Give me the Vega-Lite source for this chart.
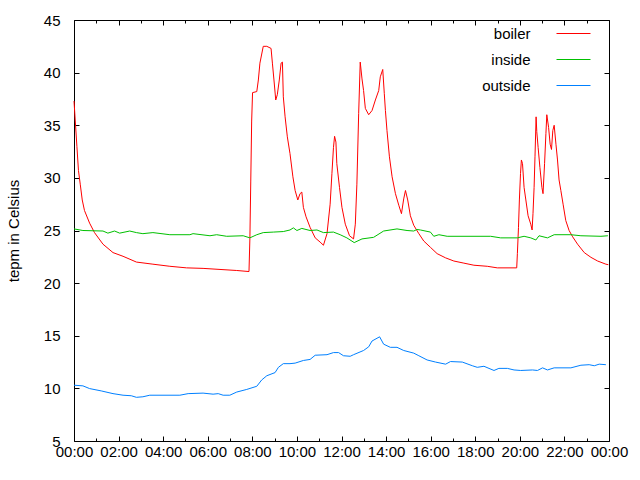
{
"$schema": "https://vega.github.io/schema/vega-lite/v6.json",
"width": 535, "height": 421,
"autosize": {"type": "none"},
"padding": {"left": 74, "top": 20, "right": 31, "bottom": 39},
"background": "white",
"config": {
 "view": {"stroke": null},
 "font": "Liberation Sans",
 "axis": {"grid": false, "domainColor": "black", "domainWidth": 1, "tickColor": "black", "tickWidth": 1, "labelColor": "black", "titleColor": "black", "labelFont": "Liberation Sans", "labelFontSize": 15, "titleFont": "Liberation Sans", "titleFontSize": 15, "titleFontWeight": "normal", "labelOverlap": false, "labelFlush": false, "labelBound": false}
},
"data": {"values": [
{"h":0,"s":"boiler","v":37.3},{"h":0.13,"s":"boiler","v":33.0},{"h":0.2,"s":"boiler","v":30.7},{"h":0.28,"s":"boiler","v":29.4},{"h":0.37,"s":"boiler","v":27.9},{"h":0.47,"s":"boiler","v":26.9},{"h":0.7,"s":"boiler","v":25.7},{"h":0.92,"s":"boiler","v":24.8},{"h":1.3,"s":"boiler","v":23.7},{"h":1.75,"s":"boiler","v":22.9},{"h":2.2,"s":"boiler","v":22.55},{"h":2.8,"s":"boiler","v":22.0},{"h":3.54,"s":"boiler","v":21.8},{"h":4.3,"s":"boiler","v":21.6},{"h":5.05,"s":"boiler","v":21.45},{"h":5.79,"s":"boiler","v":21.4},{"h":6.55,"s":"boiler","v":21.3},{"h":7.3,"s":"boiler","v":21.2},{"h":7.85,"s":"boiler","v":21.1},{"h":7.89,"s":"boiler","v":24.2},{"h":7.93,"s":"boiler","v":29.7},{"h":7.97,"s":"boiler","v":35.4},{"h":8.01,"s":"boiler","v":38.1},{"h":8.2,"s":"boiler","v":38.2},{"h":8.27,"s":"boiler","v":39.3},{"h":8.34,"s":"boiler","v":40.9},{"h":8.49,"s":"boiler","v":42.5},{"h":8.65,"s":"boiler","v":42.5},{"h":8.84,"s":"boiler","v":42.3},{"h":8.9,"s":"boiler","v":40.9},{"h":8.97,"s":"boiler","v":39.3},{"h":9.05,"s":"boiler","v":37.4},{"h":9.12,"s":"boiler","v":37.9},{"h":9.21,"s":"boiler","v":39.3},{"h":9.29,"s":"boiler","v":40.9},{"h":9.35,"s":"boiler","v":41.0},{"h":9.39,"s":"boiler","v":37.7},{"h":9.47,"s":"boiler","v":35.8},{"h":9.57,"s":"boiler","v":33.9},{"h":9.69,"s":"boiler","v":32.3},{"h":9.82,"s":"boiler","v":30.1},{"h":9.92,"s":"boiler","v":28.8},{"h":10.04,"s":"boiler","v":27.9},{"h":10.14,"s":"boiler","v":28.5},{"h":10.22,"s":"boiler","v":28.65},{"h":10.29,"s":"boiler","v":27.2},{"h":10.41,"s":"boiler","v":26.3},{"h":10.59,"s":"boiler","v":25.3},{"h":10.82,"s":"boiler","v":24.3},{"h":11.04,"s":"boiler","v":23.9},{"h":11.19,"s":"boiler","v":23.6},{"h":11.35,"s":"boiler","v":24.7},{"h":11.49,"s":"boiler","v":27.5},{"h":11.57,"s":"boiler","v":30.4},{"h":11.64,"s":"boiler","v":32.9},{"h":11.69,"s":"boiler","v":33.95},{"h":11.75,"s":"boiler","v":33.4},{"h":11.79,"s":"boiler","v":31.35},{"h":11.91,"s":"boiler","v":29.1},{"h":12.02,"s":"boiler","v":27.2},{"h":12.17,"s":"boiler","v":25.6},{"h":12.36,"s":"boiler","v":24.5},{"h":12.54,"s":"boiler","v":24.2},{"h":12.62,"s":"boiler","v":25.6},{"h":12.69,"s":"boiler","v":29.4},{"h":12.77,"s":"boiler","v":36.1},{"h":12.84,"s":"boiler","v":41.0},{"h":12.92,"s":"boiler","v":39.4},{"h":12.99,"s":"boiler","v":38.3},{"h":13.07,"s":"boiler","v":36.6},{"h":13.22,"s":"boiler","v":36.0},{"h":13.37,"s":"boiler","v":36.4},{"h":13.52,"s":"boiler","v":37.4},{"h":13.67,"s":"boiler","v":38.3},{"h":13.74,"s":"boiler","v":39.6},{"h":13.85,"s":"boiler","v":40.3},{"h":13.92,"s":"boiler","v":38.0},{"h":13.97,"s":"boiler","v":36.4},{"h":14.04,"s":"boiler","v":34.5},{"h":14.15,"s":"boiler","v":32.0},{"h":14.27,"s":"boiler","v":30.1},{"h":14.42,"s":"boiler","v":28.5},{"h":14.57,"s":"boiler","v":27.4},{"h":14.69,"s":"boiler","v":26.6},{"h":14.79,"s":"boiler","v":28.0},{"h":14.87,"s":"boiler","v":28.8},{"h":14.97,"s":"boiler","v":27.9},{"h":15.09,"s":"boiler","v":26.4},{"h":15.24,"s":"boiler","v":25.5},{"h":15.47,"s":"boiler","v":24.7},{"h":15.69,"s":"boiler","v":24.0},{"h":15.99,"s":"boiler","v":23.4},{"h":16.29,"s":"boiler","v":22.8},{"h":16.67,"s":"boiler","v":22.4},{"h":17.04,"s":"boiler","v":22.1},{"h":17.49,"s":"boiler","v":21.9},{"h":17.94,"s":"boiler","v":21.7},{"h":18.54,"s":"boiler","v":21.6},{"h":18.99,"s":"boiler","v":21.45},{"h":19.86,"s":"boiler","v":21.45},{"h":19.89,"s":"boiler","v":22.8},{"h":19.94,"s":"boiler","v":25.3},{"h":19.98,"s":"boiler","v":27.9},{"h":20.03,"s":"boiler","v":30.4},{"h":20.07,"s":"boiler","v":31.7},{"h":20.12,"s":"boiler","v":31.35},{"h":20.19,"s":"boiler","v":29.1},{"h":20.27,"s":"boiler","v":27.9},{"h":20.37,"s":"boiler","v":26.4},{"h":20.49,"s":"boiler","v":25.6},{"h":20.55,"s":"boiler","v":25.05},{"h":20.59,"s":"boiler","v":26.6},{"h":20.64,"s":"boiler","v":29.1},{"h":20.68,"s":"boiler","v":32.0},{"h":20.73,"s":"boiler","v":35.8},{"h":20.76,"s":"boiler","v":34.4},{"h":20.82,"s":"boiler","v":32.9},{"h":20.9,"s":"boiler","v":31.0},{"h":20.99,"s":"boiler","v":29.1},{"h":21.04,"s":"boiler","v":28.5},{"h":21.11,"s":"boiler","v":31.35},{"h":21.17,"s":"boiler","v":34.2},{"h":21.21,"s":"boiler","v":36.0},{"h":21.29,"s":"boiler","v":34.8},{"h":21.36,"s":"boiler","v":33.2},{"h":21.42,"s":"boiler","v":32.7},{"h":21.48,"s":"boiler","v":34.5},{"h":21.54,"s":"boiler","v":35.0},{"h":21.62,"s":"boiler","v":33.2},{"h":21.69,"s":"boiler","v":31.7},{"h":21.76,"s":"boiler","v":29.8},{"h":21.84,"s":"boiler","v":28.8},{"h":21.94,"s":"boiler","v":27.5},{"h":22.06,"s":"boiler","v":25.95},{"h":22.21,"s":"boiler","v":25.0},{"h":22.37,"s":"boiler","v":24.4},{"h":22.59,"s":"boiler","v":23.7},{"h":22.89,"s":"boiler","v":22.9},{"h":23.19,"s":"boiler","v":22.45},{"h":23.49,"s":"boiler","v":22.1},{"h":23.86,"s":"boiler","v":21.8},{"h":23.97,"s":"boiler","v":21.75},
{"h":0,"s":"inside","v":25.15},{"h":0.4,"s":"inside","v":25.0},{"h":1.3,"s":"inside","v":24.95},{"h":1.52,"s":"inside","v":24.75},{"h":1.82,"s":"inside","v":24.95},{"h":2.05,"s":"inside","v":24.75},{"h":2.5,"s":"inside","v":24.95},{"h":2.8,"s":"inside","v":24.8},{"h":3.09,"s":"inside","v":24.7},{"h":3.54,"s":"inside","v":24.8},{"h":4.3,"s":"inside","v":24.6},{"h":5.2,"s":"inside","v":24.6},{"h":5.34,"s":"inside","v":24.7},{"h":6.1,"s":"inside","v":24.5},{"h":6.4,"s":"inside","v":24.6},{"h":6.85,"s":"inside","v":24.45},{"h":7.59,"s":"inside","v":24.5},{"h":7.89,"s":"inside","v":24.3},{"h":8.2,"s":"inside","v":24.6},{"h":8.49,"s":"inside","v":24.8},{"h":8.94,"s":"inside","v":24.85},{"h":9.39,"s":"inside","v":24.9},{"h":9.69,"s":"inside","v":25.05},{"h":9.84,"s":"inside","v":25.25},{"h":10.0,"s":"inside","v":25.0},{"h":10.22,"s":"inside","v":25.2},{"h":10.59,"s":"inside","v":25.0},{"h":10.9,"s":"inside","v":25.05},{"h":11.19,"s":"inside","v":24.8},{"h":11.64,"s":"inside","v":24.85},{"h":11.94,"s":"inside","v":24.6},{"h":12.24,"s":"inside","v":24.3},{"h":12.57,"s":"inside","v":23.85},{"h":12.92,"s":"inside","v":24.2},{"h":13.44,"s":"inside","v":24.35},{"h":13.89,"s":"inside","v":24.95},{"h":14.49,"s":"inside","v":25.15},{"h":14.94,"s":"inside","v":25.0},{"h":15.24,"s":"inside","v":24.95},{"h":15.39,"s":"inside","v":25.1},{"h":15.54,"s":"inside","v":25.05},{"h":15.99,"s":"inside","v":24.85},{"h":16.14,"s":"inside","v":24.45},{"h":16.37,"s":"inside","v":24.6},{"h":16.74,"s":"inside","v":24.45},{"h":18.69,"s":"inside","v":24.45},{"h":19.14,"s":"inside","v":24.3},{"h":19.89,"s":"inside","v":24.3},{"h":20.19,"s":"inside","v":24.45},{"h":20.49,"s":"inside","v":24.3},{"h":20.72,"s":"inside","v":24.1},{"h":20.86,"s":"inside","v":24.5},{"h":21.24,"s":"inside","v":24.3},{"h":21.54,"s":"inside","v":24.6},{"h":22.29,"s":"inside","v":24.6},{"h":22.74,"s":"inside","v":24.5},{"h":23.64,"s":"inside","v":24.45},{"h":23.95,"s":"inside","v":24.5},
{"h":0,"s":"outside","v":10.3},{"h":0.4,"s":"outside","v":10.24},{"h":0.7,"s":"outside","v":9.98},{"h":1.22,"s":"outside","v":9.76},{"h":1.75,"s":"outside","v":9.5},{"h":2.2,"s":"outside","v":9.35},{"h":2.57,"s":"outside","v":9.3},{"h":2.8,"s":"outside","v":9.15},{"h":3.09,"s":"outside","v":9.2},{"h":3.4,"s":"outside","v":9.35},{"h":4.75,"s":"outside","v":9.35},{"h":5.12,"s":"outside","v":9.5},{"h":5.79,"s":"outside","v":9.55},{"h":6.24,"s":"outside","v":9.45},{"h":6.47,"s":"outside","v":9.5},{"h":6.69,"s":"outside","v":9.35},{"h":6.99,"s":"outside","v":9.35},{"h":7.3,"s":"outside","v":9.65},{"h":7.75,"s":"outside","v":9.9},{"h":8.2,"s":"outside","v":10.2},{"h":8.42,"s":"outside","v":10.8},{"h":8.65,"s":"outside","v":11.2},{"h":9.02,"s":"outside","v":11.5},{"h":9.17,"s":"outside","v":12.0},{"h":9.39,"s":"outside","v":12.35},{"h":9.69,"s":"outside","v":12.35},{"h":9.92,"s":"outside","v":12.4},{"h":10.29,"s":"outside","v":12.65},{"h":10.59,"s":"outside","v":12.75},{"h":10.82,"s":"outside","v":13.15},{"h":11.35,"s":"outside","v":13.2},{"h":11.64,"s":"outside","v":13.4},{"h":11.87,"s":"outside","v":13.4},{"h":12.09,"s":"outside","v":13.1},{"h":12.39,"s":"outside","v":13.05},{"h":12.54,"s":"outside","v":13.2},{"h":12.99,"s":"outside","v":13.6},{"h":13.22,"s":"outside","v":13.95},{"h":13.37,"s":"outside","v":14.5},{"h":13.71,"s":"outside","v":14.9},{"h":13.89,"s":"outside","v":14.2},{"h":14.19,"s":"outside","v":13.9},{"h":14.49,"s":"outside","v":13.9},{"h":14.79,"s":"outside","v":13.6},{"h":15.24,"s":"outside","v":13.35},{"h":15.47,"s":"outside","v":13.1},{"h":15.84,"s":"outside","v":12.7},{"h":16.22,"s":"outside","v":12.5},{"h":16.67,"s":"outside","v":12.3},{"h":16.89,"s":"outside","v":12.55},{"h":17.42,"s":"outside","v":12.5},{"h":17.87,"s":"outside","v":12.15},{"h":18.09,"s":"outside","v":12.0},{"h":18.39,"s":"outside","v":12.1},{"h":18.84,"s":"outside","v":11.7},{"h":19.06,"s":"outside","v":11.9},{"h":19.44,"s":"outside","v":11.9},{"h":19.74,"s":"outside","v":11.75},{"h":20.04,"s":"outside","v":11.7},{"h":20.57,"s":"outside","v":11.75},{"h":20.79,"s":"outside","v":11.7},{"h":21.02,"s":"outside","v":11.95},{"h":21.24,"s":"outside","v":11.75},{"h":21.54,"s":"outside","v":11.95},{"h":22.29,"s":"outside","v":11.95},{"h":22.74,"s":"outside","v":12.2},{"h":23.11,"s":"outside","v":12.25},{"h":23.34,"s":"outside","v":12.15},{"h":23.56,"s":"outside","v":12.3},{"h":23.86,"s":"outside","v":12.25}
]},
"layer": [
 {"mark": {"type": "line", "strokeWidth": 1},
  "encoding": {
   "x": {"field": "h", "type": "quantitative", "scale": {"domain": [0, 24], "nice": false, "zero": false},
    "axis": {"orient": "bottom", "title": null, "values": [0,1,2,3,4,5,6,7,8,9,10,11,12,13,14,15,16,17,18,19,20,21,22,23,24],
     "tickSize": {"condition": {"test": "datum.value % 2 == 0", "value": -5}, "value": -3},
     "labelPadding": 8,
     "labelExpr": "datum.value % 2 == 0 ? ((datum.value % 24) < 10 ? '0' : '') + (datum.value % 24) + ':00' : ''"}},
   "y": {"field": "v", "type": "quantitative", "scale": {"domain": [5, 45], "nice": false, "zero": false},
    "axis": {"orient": "left", "title": "tepm in Celsius", "values": [5,10,15,20,25,30,35,40,45], "tickSize": -5, "labelPadding": 19, "titlePadding": 22}},
   "color": {"field": "s", "type": "nominal",
    "scale": {"domain": ["boiler", "inside", "outside"], "range": ["#ff0000", "#00c000", "#0080ff"]},
    "legend": {"orient": "none", "legendX": 482, "legendY": -4, "title": null, "symbolType": "stroke", "symbolSize": 1156, "symbolStrokeWidth": 1, "rowPadding": 0, "padding": 0, "labelAlign": "right", "labelOffset": -60.5, "labelFontSize": 15, "labelFont": "Liberation Sans", "labelColor": "black"}}
  }},
 {"mark": {"type": "line", "opacity": 0},
  "encoding": {
   "x": {"field": "h", "type": "quantitative", "scale": {"domain": [0, 24], "nice": false, "zero": false},
    "axis": {"orient": "top", "title": null, "labels": false, "values": [0,1,2,3,4,5,6,7,8,9,10,11,12,13,14,15,16,17,18,19,20,21,22,23,24],
     "tickSize": {"condition": {"test": "datum.value % 2 == 0", "value": -5}, "value": -3}}},
   "y": {"field": "v", "type": "quantitative", "scale": {"domain": [5, 45], "nice": false, "zero": false},
    "axis": {"orient": "right", "title": null, "labels": false, "values": [5,10,15,20,25,30,35,40,45], "tickSize": -5}}
  }}
],
"resolve": {"axis": {"x": "independent", "y": "independent"}}
}
